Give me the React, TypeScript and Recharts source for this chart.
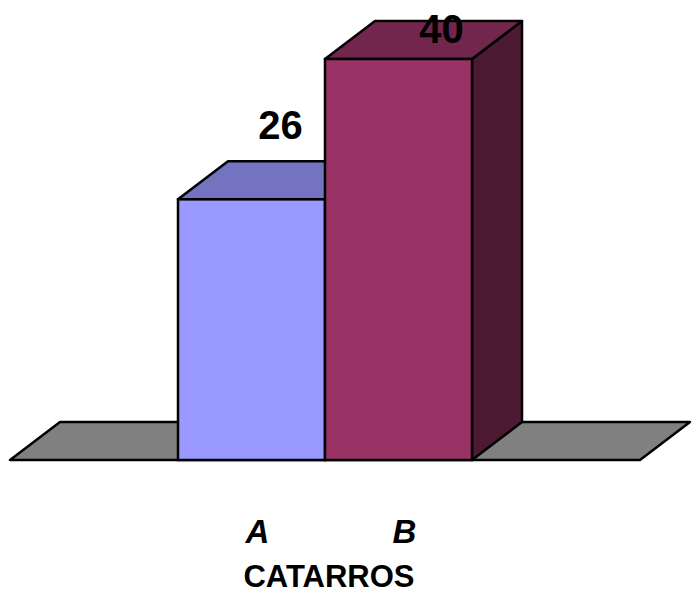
import { BarChart, Bar, XAxis, YAxis, LabelList, Label } from "recharts";

const categories = ["A", "B"];
const values = [26, 40];
const axisTitle = "CATARROS";

const FRONT = ["#9999FF", "#993366"];
const TOP = ["#7373BF", "#73264D"];
const SIDE = ["#4D4D80", "#4D1A33"];
const FLOOR = "#808080";

// 3D depth offset
const DX = 50;
const DY = 38;
const SIDE_PAD = 168;

// value label offsets from the top centre of the front face
const LABEL_SHIFT = [
  { dx: 29, dy: -60 },
  { dx: 43, dy: -16 },
];

const FONT = "'Liberation Sans', Arial, sans-serif";

const data = categories.map((name, i) => ({ name, value: values[i] }));

function Box3D(props: any) {
  const { x, y, width, height, index } = props;
  const base = y + height;
  const parts = [];
  if (index === 0) {
    const left = x - SIDE_PAD;
    const right = x + width * data.length + SIDE_PAD;
    parts.push(
      <polygon
        key="floor"
        points={`${left},${base} ${right},${base} ${right + DX},${base - DY} ${left + DX},${base - DY}`}
        fill={FLOOR}
        stroke="#000"
        strokeWidth={2.5}
        strokeLinejoin="round"
      />
    );
  }
  parts.push(
    <polygon
      key="side"
      points={`${x + width},${y} ${x + width + DX},${y - DY} ${x + width + DX},${base - DY} ${x + width},${base}`}
      fill={SIDE[index]}
      stroke="#000"
      strokeWidth={2.5}
      strokeLinejoin="round"
    />,
    <polygon
      key="top"
      points={`${x},${y} ${x + DX},${y - DY} ${x + width + DX},${y - DY} ${x + width},${y}`}
      fill={TOP[index]}
      stroke="#000"
      strokeWidth={2.5}
      strokeLinejoin="round"
    />,
    <rect
      key="front"
      x={x}
      y={y}
      width={width}
      height={height}
      fill={FRONT[index]}
      stroke="#000"
      strokeWidth={2.5}
    />
  );
  return <g>{parts}</g>;
}

function ValueLabel(props: any) {
  const { x, y, width, value, index } = props;
  const s = LABEL_SHIFT[index] || { dx: 0, dy: -10 };
  return (
    <text
      x={x + width / 2 + s.dx}
      y={y + s.dy}
      textAnchor="middle"
      fontFamily={FONT}
      fontWeight="bold"
      fontSize={40}
      fill="#000"
    >
      {value}
    </text>
  );
}

function CategoryTick(props: any) {
  const { x, y, payload } = props;
  return (
    <text
      x={x + 6}
      y={y + 75}
      textAnchor="middle"
      fontFamily={FONT}
      fontWeight="bold"
      fontStyle="italic"
      fontSize={33}
      fill="#000"
    >
      {payload.value}
    </text>
  );
}

function AxisTitle(props: any) {
  const { viewBox } = props;
  return (
    <text
      x={viewBox.x + viewBox.width / 2 + 4}
      y={viewBox.y + 127}
      textAnchor="middle"
      fontFamily={FONT}
      fontWeight="bold"
      fontSize={31}
      fill="#000"
    >
      {axisTitle}
    </text>
  );
}

export default function App() {
  return (
    <div style={{ position: "absolute", left: 0, top: 0, background: "#fff" }}>
      <BarChart
        width={697}
        height={595}
        data={data}
        margin={{ top: 59, right: 57, bottom: 0, left: 10 }}
        barCategoryGap={0}
      >
        <XAxis
          dataKey="name"
          axisLine={false}
          tickLine={false}
          height={135}
          padding={{ left: SIDE_PAD, right: SIDE_PAD }}
          tick={<CategoryTick />}
          interval={0}
        >
          <Label content={<AxisTitle />} />
        </XAxis>
        <YAxis hide domain={[0, 40]} />
        <Bar dataKey="value" shape={<Box3D />} isAnimationActive={false}>
          <LabelList dataKey="value" content={<ValueLabel />} />
        </Bar>
      </BarChart>
    </div>
  );
}
